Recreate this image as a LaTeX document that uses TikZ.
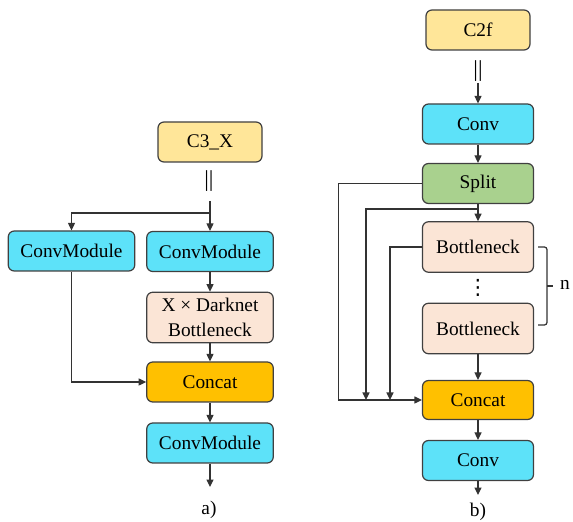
\documentclass[tikz,border=0pt]{standalone}
\usepackage{fontspec}
\setmainfont{Liberation Serif}
\newfontfamily\symfont{DejaVu Sans}
\usetikzlibrary{arrows.meta}

\definecolor{headyellow}{HTML}{FFE699}
\definecolor{convblue}{HTML}{5DE2F9}
\definecolor{bottlepink}{HTML}{FBE5D6}
\definecolor{splitgreen}{HTML}{A9D18E}
\definecolor{catorange}{HTML}{FFC000}

\tikzset{
	block/.style = {draw=black!75, line width=0.7pt, rounded corners=0.12cm,
		minimum height=0.8cm, inner sep=0pt, align=center,
		font=\fontsize{11}{14}\selectfont},
	headbox/.style = {block, fill=headyellow, minimum width=2.08cm},
	convmod/.style = {block, fill=convblue, minimum width=2.53cm},
	convbox/.style = {block, fill=convblue, minimum width=2.22cm},
	catbox/.style = {block, fill=catorange},
	neckbox/.style = {block, fill=bottlepink, minimum height=1.01cm},
	plain/.style = {font=\fontsize{11}{14}\selectfont},
	bars/.style = {font=\fontsize{13}{14}\selectfont, inner sep=0pt},
	line/.style = {draw=black!80, line width=0.7pt},
	link/.style = {line, -{Triangle[length=0.15cm,width=0.14cm]}}
}

\begin{document}
\begin{tikzpicture}
	\useasboundingbox (0,0) rectangle (11.46,10.42);

	% a) C3 module
	\node[headbox] (c3x) at (4.20,7.58) {C3\_X};
	\node[bars] (brkA) at (4.18,6.80) {||};
	\coordinate (inA) at (4.20,6.40);
	\coordinate (forkA) at (4.20,6.16);
	\node[convmod] (cmL) at (1.43,5.40) {ConvModule};
	\node[convmod] (cmR) at (4.20,5.39) {ConvModule};
	\node[neckbox, minimum width=2.53cm] (dark) at (4.20,4.07) {X × Darknet\\Bottleneck};
	\node[catbox, minimum width=2.53cm] (catA) at (4.20,2.78) {Concat};
	\node[convmod] (cmOut) at (4.20,1.56) {ConvModule};
	\coordinate (outA) at (4.20,0.68);
	\node[plain] (capA) at (4.18,0.22) {a)};

	\draw[line] (inA) -- (forkA);
	\draw[link] (forkA) -- (cmR);
	\draw[link] (forkA) -| (cmL);
	\draw[link] (cmR) -- (dark);
	\draw[link] (dark) -- (catA);
	\draw[link] (cmL) |- (catA);
	\draw[link] (catA) -- (cmOut);
	\draw[link] (cmOut) -- (outA);

	% b) C2f module
	\node[headbox] (c2f) at (9.56,9.82) {C2f};
	\node[bars] (brkB) at (9.56,9.00) {||};
	\coordinate (inB) at (9.56,8.76);
	\node[convbox] (convIn) at (9.56,7.94) {Conv};
	\node[block, fill=splitgreen, minimum width=2.22cm] (split) at (9.56,6.75) {Split};
	\coordinate (tapB) at (9.56,6.24);
	\node[neckbox, minimum width=2.22cm] (neck1) at (9.56,5.48) {Bottleneck};
	\node[font=\symfont\fontsize{12}{14}\selectfont, inner sep=0pt] (dots) at (9.56,4.66) {⋮};
	\node[neckbox, minimum width=2.22cm] (neck2) at (9.56,3.85) {Bottleneck};
	\node[catbox, minimum width=2.22cm, minimum height=0.78cm] (catB) at (9.56,2.42) {Concat};
	\node[convbox] (convOut) at (9.56,1.21) {Conv};
	\coordinate (outB) at (9.56,0.52);
	\node[plain] (capB) at (9.56,0.18) {b)};
	\coordinate (joinB1) at (7.32,2.42);
	\coordinate (joinB2) at (7.80,2.42);

	\draw[link] (inB) -- (convIn);
	\draw[link] (convIn) -- (split);
	\draw[link] (split) -- (neck1);
	\draw[link] (neck2) -- (catB);
	\draw[link] (catB) -- (convOut);
	\draw[link] (convOut) -- (outB);
	\draw[link] (split.west) -- ++(-1.67,0) |- (catB.west);
	\draw[link] (tapB) -| (joinB1);
	\draw[link] (neck1.west) -| (joinB2);

	% repeat bracket
	\coordinate (braceTop) at (10.76,5.48);
	\coordinate (braceBot) at (10.76,3.92);
	\draw[line, rounded corners=1.5pt] (braceTop) -- (10.94,5.48) -- (10.94,3.92) -- (braceBot);
	\draw[line] (10.94,4.70) -- (11.05,4.70);
	\node[plain] (rep) at (11.30,4.72) {n};
\end{tikzpicture}
\end{document}
